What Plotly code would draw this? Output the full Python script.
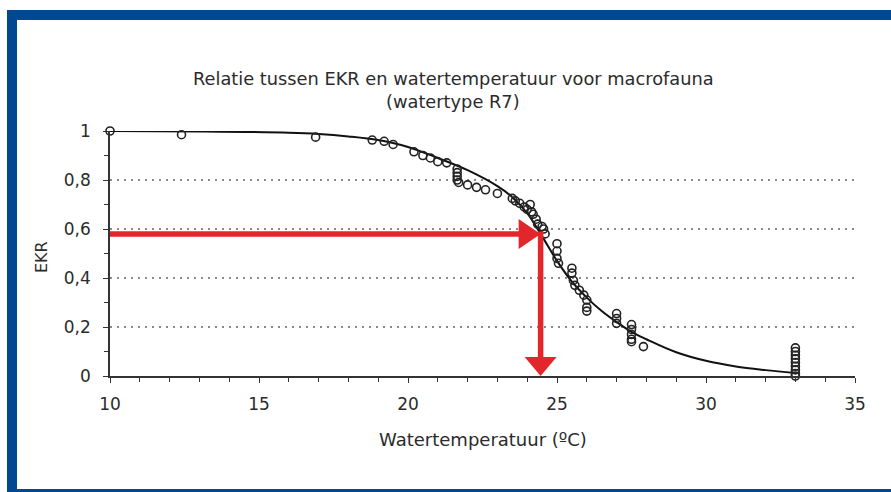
import plotly.graph_objects as go

# ---------------- data ----------------
title_line1 = "Relatie tussen EKR en watertemperatuur voor macrofauna"
title_line2 = "(watertype R7)"
x_axis_title = "Watertemperatuur (ºC)"
y_axis_title = "EKR"

x_tick_vals = [10, 15, 20, 25, 30, 35]
x_tick_text = ["10", "15", "20", "25", "30", "35"]
y_tick_vals = [0, 0.2, 0.4, 0.6, 0.8, 1.0]
y_tick_text = ["0", "0,2", "0,4", "0,6", "0,8", "1"]

obs_temp = [10, 12.4, 16.9,
            18.8, 19.2, 19.5,
            20.2, 20.5, 20.75, 21.0, 21.3,
            21.65, 21.65, 21.65, 21.65, 21.7,
            22.0, 22.3, 22.6, 23.0,
            23.5, 23.6, 23.75, 23.9, 24.0,
            24.1, 24.15, 24.2, 24.3, 24.35, 24.5, 24.55, 24.6,
            25.0, 25.0, 25.0, 25.05,
            25.5, 25.5, 25.55, 25.6, 25.75, 25.9, 26.0, 26.0, 26.0,
            27.0, 27.0, 27.0,
            27.5, 27.5, 27.5, 27.5, 27.5,
            27.9,
            33, 33, 33, 33, 33, 33, 33, 33, 33]
obs_ekr = [1.0, 0.985, 0.975,
           0.963, 0.958, 0.945,
           0.915, 0.9, 0.89, 0.875, 0.87,
           0.845, 0.83, 0.815, 0.8, 0.79,
           0.78, 0.77, 0.76, 0.745,
           0.725, 0.715, 0.705, 0.69, 0.68,
           0.7, 0.67, 0.66, 0.64, 0.62, 0.61, 0.6, 0.58,
           0.54, 0.51, 0.48, 0.46,
           0.44, 0.42, 0.39, 0.37, 0.35, 0.33, 0.31, 0.28, 0.265,
           0.255, 0.235, 0.215,
           0.21, 0.19, 0.17, 0.15, 0.14,
           0.12,
           0.115, 0.1, 0.085, 0.07, 0.055, 0.04, 0.025, 0.01, 0.0]

fit_temp = [10, 13, 16, 17, 18, 19, 20, 21, 22, 23, 23.5, 24, 24.5, 25, 25.5,
            26, 26.5, 27, 27.5, 28, 29, 30, 31, 32, 33]
fit_ekr = [1.0, 0.998, 0.993, 0.988, 0.978, 0.963, 0.935, 0.89, 0.84, 0.775, 0.73,
           0.665, 0.57, 0.47, 0.385, 0.32, 0.265, 0.22, 0.18, 0.15, 0.097, 0.062,
           0.039, 0.024, 0.012]

target_temp = 24.45
target_ekr = 0.58

# ---------------- layout geometry ----------------
W, H = 891, 492
ML, MR, MT, MB = 110, 36, 131, 116
X_RANGE = [10, 35]
Y_RANGE = [0, 1]
plot_w = W - ML - MR
plot_h = H - MT - MB
px_per_x = plot_w / (X_RANGE[1] - X_RANGE[0])
px_per_y = plot_h / (Y_RANGE[1] - Y_RANGE[0])


def paper_x(px):
    return (px - ML) / plot_w


def paper_y(py):
    return (H - MB - py) / plot_h


RED = "#e3262b"
BLUE = "#004891"
TEXT = "#2b2b2b"
FONT = "DejaVu Sans"

fig = go.Figure()

fig.add_trace(go.Scatter(
    x=fit_temp, y=fit_ekr, mode="lines",
    line=dict(color="#111111", width=2, shape="spline", smoothing=1.0),
    hoverinfo="skip", showlegend=False, cliponaxis=False))

fig.add_trace(go.Scatter(
    x=obs_temp, y=obs_ekr, mode="markers",
    marker=dict(symbol="circle-open", size=8, color="#222222",
                line=dict(width=1.6, color="#222222")),
    showlegend=False, cliponaxis=False))

shapes = []
# arrows (red)
head_len_h = 22 / px_per_x
head_half_h = 15 / px_per_y
shapes.append(dict(type="line", xref="x", yref="y",
                   x0=X_RANGE[0], x1=target_temp - head_len_h + 0.05,
                   y0=target_ekr, y1=target_ekr,
                   line=dict(color=RED, width=5.5)))
shapes.append(dict(type="path", xref="x", yref="y",
                   path=f"M {target_temp - head_len_h},{target_ekr - head_half_h} "
                        f"L {target_temp},{target_ekr} "
                        f"L {target_temp - head_len_h},{target_ekr + head_half_h} Z",
                   fillcolor=RED, line=dict(color=RED, width=0)))
head_len_v = 19 / px_per_y
head_half_v = 16 / px_per_x
shapes.append(dict(type="line", xref="x", yref="y",
                   x0=target_temp, x1=target_temp,
                   y0=target_ekr + 2.5 / px_per_y, y1=Y_RANGE[0] + head_len_v - 0.01,
                   line=dict(color=RED, width=5.5)))
shapes.append(dict(type="path", xref="x", yref="y",
                   path=f"M {target_temp - head_half_v},{Y_RANGE[0] + head_len_v} "
                        f"L {target_temp},{Y_RANGE[0]} "
                        f"L {target_temp + head_half_v},{Y_RANGE[0] + head_len_v} Z",
                   fillcolor=RED, line=dict(color=RED, width=0)))

# blue frame
shapes.append(dict(type="rect", xref="paper", yref="paper", layer="above",
                   x0=paper_x(7), x1=paper_x(W), y0=paper_y(20), y1=paper_y(10),
                   fillcolor=BLUE, line=dict(width=0)))
shapes.append(dict(type="rect", xref="paper", yref="paper", layer="above",
                   x0=paper_x(7), x1=paper_x(17), y0=paper_y(491), y1=paper_y(10),
                   fillcolor=BLUE, line=dict(width=0)))
shapes.append(dict(type="rect", xref="paper", yref="paper", layer="above",
                   x0=paper_x(7), x1=paper_x(W), y0=paper_y(492), y1=paper_y(489),
                   fillcolor=BLUE, line=dict(width=0)))

annotations = [
    dict(text=title_line1, xref="paper", yref="paper", x=paper_x(453), y=paper_y(78),
         xanchor="center", yanchor="middle", showarrow=False,
         font=dict(family=FONT, size=17.8, color=TEXT)),
    dict(text=title_line2, xref="paper", yref="paper", x=paper_x(453), y=paper_y(101),
         xanchor="center", yanchor="middle", showarrow=False,
         font=dict(family=FONT, size=17.8, color=TEXT)),
    dict(text=x_axis_title, xref="paper", yref="paper", x=paper_x(483), y=paper_y(439),
         xanchor="center", yanchor="middle", showarrow=False,
         font=dict(family=FONT, size=18, color=TEXT)),
    dict(text=y_axis_title, xref="paper", yref="paper", x=paper_x(41), y=paper_y(257),
         xanchor="center", yanchor="middle", showarrow=False, textangle=-90,
         font=dict(family=FONT, size=16, color=TEXT)),
]

fig.update_layout(
    width=W, height=H,
    margin=dict(l=ML, r=MR, t=MT, b=MB, pad=0),
    paper_bgcolor="white", plot_bgcolor="white",
    shapes=shapes, annotations=annotations,
    font=dict(family=FONT, size=16, color=TEXT),
    showlegend=False,
)

fig.update_xaxes(
    range=X_RANGE, tickmode="array", tickvals=x_tick_vals, ticktext=x_tick_text,
    showgrid=False, zeroline=False,
    showline=True, linecolor="#333333", linewidth=1.5,
    ticks="outside", ticklen=5, tickwidth=1.2, tickcolor="#333333",
    ticklabelstandoff=7,
    minor=dict(dtick=1, ticks="outside", ticklen=4, tickwidth=1, tickcolor="#333333",
               showgrid=False),
    tickfont=dict(family=FONT, size=17, color=TEXT),
)
fig.update_yaxes(
    range=Y_RANGE, tickmode="array", tickvals=y_tick_vals, ticktext=y_tick_text,
    showgrid=True, gridcolor="#8a8a8a", gridwidth=1.5, griddash="2px,5px",
    zeroline=False,
    showline=True, linecolor="#333333", linewidth=1.5,
    ticks="outside", ticklen=5, tickwidth=1.2, tickcolor="#333333",
    ticklabelstandoff=9,
    minor=dict(dtick=0.1, ticks="outside", ticklen=4, tickwidth=1, tickcolor="#333333",
               showgrid=False),
    tickfont=dict(family=FONT, size=17, color=TEXT),
)

fig.write_html(
    "out.html",
    config={"displayModeBar": False},
    post_script="document.body.style.margin='0';document.body.style.overflow='hidden';",
)
